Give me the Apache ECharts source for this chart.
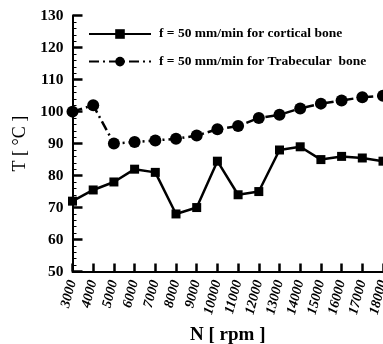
<!DOCTYPE html>
<html>
<head>
<meta charset="utf-8">
<script src="https://cdn.jsdelivr.net/npm/echarts@6/dist/echarts.min.js"></script>
<style>
  html, body { margin: 0; padding: 0; background: #fff; overflow: hidden; }
  #chart { display: block; width: 383px; height: 344px; }
</style>
</head>
<body>
<div id="chart"></div>
<script>
// Spindle speed (rpm) categories
const speeds = ['3000', '4000', '5000', '6000', '7000', '8000', '9000', '10000',
  '11000', '12000', '13000', '14000', '15000', '16000', '17000', '18000'];

// Temperature (°C) at feed rate 50 mm/min
const corticalTemp = [72, 75.5, 78, 82, 81, 68, 70, 84.5, 74, 75, 88, 89, 85, 86, 85.5, 84.5];
const trabecularTemp = [100, 102, 90, 90.5, 91, 91.5, 92.5, 94.5, 95.5, 98, 99, 101, 102.5, 103.5, 104.5, 105];

const seriesNames = ['f = 50 mm/min for cortical bone', 'f = 50 mm/min for Trabecular  bone'];

const serif = '"Liberation Serif", "Times New Roman", serif';

const chart = echarts.init(document.getElementById('chart'), null, { renderer: 'canvas' });

chart.setOption({
  animation: false,
  backgroundColor: '#fff',
  grid: {
    left: 72.5, right: 0, top: 15.7, bottom: 72.5,
    containLabel: false,
    outerBoundsMode: 'none'
  },
  legend: {
    orient: 'vertical',
    left: 88,
    top: 27,
    padding: 0,
    itemWidth: 62,
    itemHeight: 12,
    itemGap: 13.6,
    textStyle: { fontFamily: serif, fontWeight: 'bold', fontSize: 13.5, color: '#000', padding: [0, 0, 0, 3] },
    data: seriesNames
  },
  xAxis: {
    type: 'category',
    data: speeds,
    boundaryGap: false,
    name: 'N [ rpm ]',
    nameLocation: 'middle',
    nameGap: 54,
    nameTextStyle: { fontFamily: serif, fontWeight: 'bold', fontSize: 19, color: '#000' },
    axisLine: { lineStyle: { color: '#000', width: 2 } },
    axisTick: { inside: true, length: 8, lineStyle: { color: '#000', width: 2.5 } },
    axisLabel: {
      rotate: 75,
      margin: 9,
      fontFamily: serif,
      fontWeight: 'bold',
      fontStyle: 'italic',
      fontSize: 14,
      color: '#000'
    },
    splitLine: { show: false }
  },
  yAxis: {
    type: 'value',
    min: 50,
    max: 130,
    interval: 10,
    name: 'T [ °C ]',
    nameLocation: 'middle',
    nameGap: 40,
    nameTextStyle: { fontFamily: serif, fontSize: 18, color: '#000' },
    axisLine: { show: true, lineStyle: { color: '#000', width: 2 } },
    axisTick: { show: true, inside: true, length: 10, lineStyle: { color: '#000', width: 2.5 } },
    minorTick: { show: true, splitNumber: 5, length: 4, lineStyle: { color: '#000', width: 1 } },
    axisLabel: {
      margin: 9,
      fontFamily: serif,
      fontWeight: 'bold',
      fontSize: 15.5,
      color: '#000'
    },
    splitLine: { show: false }
  },
  series: [
    {
      name: seriesNames[0],
      type: 'line',
      data: corticalTemp,
      symbol: 'rect',
      symbolSize: 9,
      itemStyle: { color: '#000' },
      lineStyle: { color: '#000', width: 2.5 },
      clip: false
    },
    {
      name: seriesNames[1],
      type: 'line',
      data: trabecularTemp,
      symbol: 'circle',
      symbolSize: 12,
      itemStyle: { color: '#000' },
      lineStyle: { color: '#000', width: 2.5, type: [10, 4, 2, 4] },
      clip: false
    }
  ]
});
</script>
</body>
</html>
